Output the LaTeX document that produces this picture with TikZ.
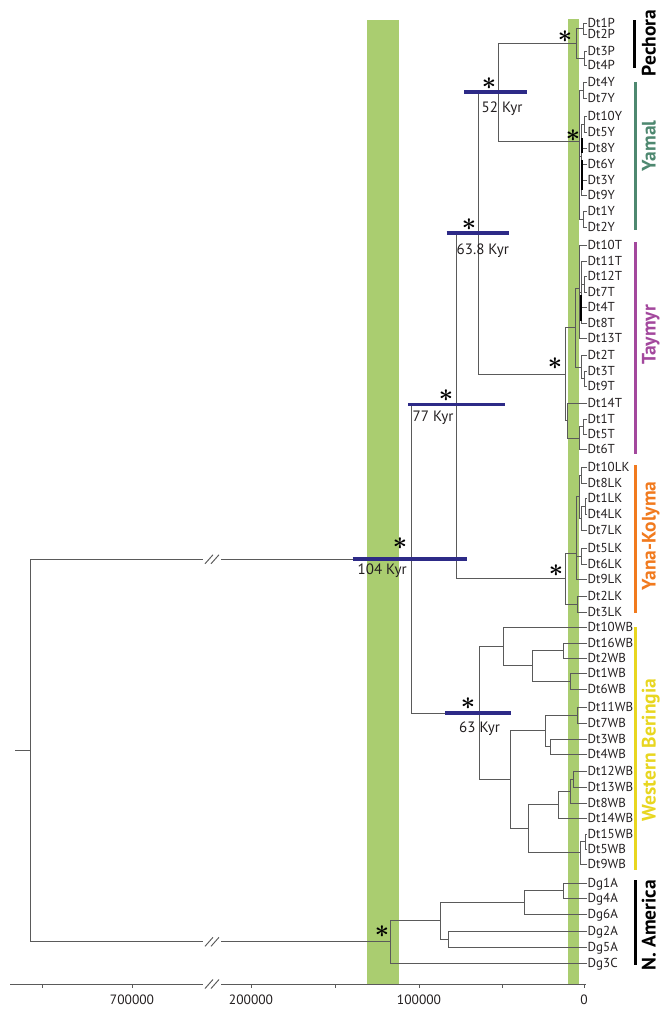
\documentclass[tikz,border=0pt]{standalone}
\usepackage{fontspec}
\setmainfont{PT Sans}
\definecolor{barg}{RGB}{170,205,112}
\definecolor{navy}{RGB}{45,42,135}
\definecolor{treeg}{RGB}{90,90,90}
\definecolor{yamalc}{RGB}{78,136,112}
\definecolor{taymc}{RGB}{163,72,157}
\definecolor{ykc}{RGB}{241,122,30}
\definecolor{wbc}{RGB}{232,214,32}
\definecolor{txt}{RGB}{35,31,32}
\tikzset{
  br/.style={draw=treeg, line width=0.95pt},
  leaf/.style={anchor=west, inner xsep=1pt, inner ysep=0pt, text height=9pt, text depth=0pt, font=\fontsize{13}{15}\selectfont, text=txt},
  kyrbar/.style={draw=navy, line width=3.8pt},
  kyr/.style={anchor=west, inner sep=0pt, text height=10.3pt, text depth=0pt, font=\fontsize{15}{17}\selectfont, text=txt},
  star/.style={inner sep=0pt, font=\Huge\boldmath, text=black},
  clade/.style={rotate=90, anchor=base, inner sep=0pt, font=\fontsize{19.5}{21}\selectfont\bfseries},
  cbar/.style={line width=2.2pt},
  thickseg/.style={draw=black, line width=2pt},
}
\begin{document}
\begin{tikzpicture}[x=1pt,y=-1pt]
\useasboundingbox (0,0) rectangle (661,1009);
% green bands
\fill[barg] (367,20) rectangle (399,985);
\fill[barg] (567.7,19) rectangle (579.3,985);
% leaves
\foreach \n/\y in {Dt1P/23, Dt2P/34, Dt3P/51, Dt4P/65, Dt4Y/82, Dt7Y/98, Dt10Y/116, Dt5Y/132, Dt8Y/148, Dt6Y/164, Dt3Y/180, Dt9Y/195, Dt1Y/211, Dt2Y/227, Dt10T/245, Dt11T/261, Dt12T/276, Dt7T/292, Dt4T/307, Dt8T/323, Dt13T/338, Dt2T/355, Dt3T/371, Dt9T/386, Dt14T/403, Dt1T/419, Dt5T/434, Dt6T/449, Dt10LK/467, Dt8LK/483, Dt1LK/498, Dt4LK/514, Dt7LK/530, Dt5LK/548, Dt6LK/564, Dt9LK/579, Dt2LK/596, Dt3LK/612, Dt10WB/627, Dt16WB/643, Dt2WB/658, Dt1WB/673, Dt6WB/689, Dt11WB/707, Dt7WB/723, Dt3WB/739, Dt4WB/754, Dt12WB/771, Dt13WB/787, Dt8WB/803, Dt14WB/818, Dt15WB/834, Dt5WB/849, Dt9WB/864, Dg1A/883, Dg4A/898, Dg6A/914, Dg2A/931, Dg5A/947, Dg3C/963}
  \node[leaf] (\n) at (586.5,\y) {\n};
% internal nodes
\foreach \n/\x/\y in {p12/583/28.5, p34/584/58, pR/576/43.25,
  y47/583/90, y105/584/124, yM/581.5/156, y12/583/219, yR/579.5/141, n52/498/92,
  tA1a/584/284, tA1b/581.5/292, tA1/579/288, tA2a/584/378.5, tA2/581/367, tA/575/327.5,
  tB1a/583/426.5, tB1/579/438, tB/567.7/420.5, tR/565.7/374, n638/478.7/233,
  k108/581/475, k14/585/506, k147/581.7/518, k1/579/496.5, k56/581.7/556, kU/576.7/553, kL/577/604, kR/565/578.5, n77/456/405.5,
  w162/563/650.5, w16/570/681, wX2/532/665.75, wX1/503/646.4, w117/577/715, w34/550/746.5, wY1/545/730.75,
  w1213/573/779, w8/570/791, w14/558/804.5, w155/585/841.5, w9/580/852.75, wY2/528/828.6, wY/510/779.7, wR/479.5/713,
  n104/411.7/559.25,
  a14/563/890.5, a146/524/902.25, a25/448/939, aA/440/920.6, aR/390.7/941.8,
  root/30/750.5, stub/15/750.5, bk1/203/559.25, bk2/221/559.25, bk3/203/941.8, bk4/221/941.8}
  \coordinate (\n) at (\x,\y);
% branches
\foreach \p/\c in {p12/Dt1P, p12/Dt2P, p34/Dt3P, p34/Dt4P, pR/p12, pR/p34,
  y47/Dt4Y, y47/Dt7Y, y105/Dt10Y, y105/Dt5Y, yM/y105, yM/Dt8Y, yM/Dt6Y, yM/Dt3Y, yM/Dt9Y, y12/Dt1Y, y12/Dt2Y, yR/y47, yR/yM, yR/y12,
  n52/pR, n52/yR,
  tA1a/Dt12T, tA1a/Dt7T, tA1b/Dt11T, tA1b/tA1a, tA1b/Dt4T, tA1b/Dt8T, tA1/Dt10T, tA1/tA1b, tA1/Dt13T, tA2a/Dt3T, tA2a/Dt9T, tA2/Dt2T, tA2/tA2a, tA/tA1, tA/tA2,
  tB1a/Dt1T, tB1a/Dt5T, tB1/tB1a, tB1/Dt6T, tB/Dt14T, tB/tB1, tR/tA, tR/tB,
  n638/n52, n638/tR,
  k108/Dt10LK, k108/Dt8LK, k14/Dt1LK, k14/Dt4LK, k147/k14, k147/Dt7LK, k1/k108, k1/k147, k56/Dt5LK, k56/Dt6LK, kU/k1, kU/k56, kU/Dt9LK, kL/Dt2LK, kL/Dt3LK, kR/kU, kR/kL,
  n77/n638, n77/kR,
  w162/Dt16WB, w162/Dt2WB, w16/Dt1WB, w16/Dt6WB, wX2/w162, wX2/w16, wX1/Dt10WB, wX1/wX2,
  w117/Dt11WB, w117/Dt7WB, w34/Dt3WB, w34/Dt4WB, wY1/w117, wY1/w34,
  w1213/Dt12WB, w1213/Dt13WB, w8/w1213, w8/Dt8WB, w14/w8, w14/Dt14WB, w155/Dt15WB, w155/Dt5WB, w9/w155, w9/Dt9WB,
  wY2/w14, wY2/w9, wY/wY1, wY/wY2, wR/wX1, wR/wY,
  n104/n77, n104/wR,
  a14/Dg1A, a14/Dg4A, a146/a14, a146/Dg6A, a25/Dg2A, a25/Dg5A, aA/a146, aA/a25, aR/aA, aR/Dg3C}
  \draw[br] (\p) |- (\c);
% root with breaks
\draw[br] (stub) -- (root);
\draw[br] (root) |- (bk1);
\draw[br] (bk2) -- (n104);
\draw[br] (root) |- (bk3);
\draw[br] (bk4) -- (aR);
\foreach \y in {559.25, 941.8} {
  \draw[br] (205,\y+4.5) -- (213,\y-4.5);
  \draw[br] (211,\y+4.5) -- (219,\y-4.5);
}
% very short branches drawn heavy
\draw[thickseg] (581.5,138) -- (581.5,153);
\draw[thickseg] (581.5,160) -- (581.5,190);
\draw[thickseg] (580.5,295) -- (580.5,321);
% age bars
\draw[kyrbar] (464,92) -- (527,92);
\draw[kyrbar] (446.7,233) -- (509.3,233);
\draw[kyrbar] (408,404.5) -- (505,404.5);
\draw[kyrbar] (352.7,559.25) -- (467,559.25);
\draw[kyrbar] (445,713) -- (511,713);
\node[kyr] (k52) at (481.5,107) {52 Kyr};
\node[kyr] (k638) at (456.5,249) {63.8 Kyr};
\node[kyr] (k77) at (412.5,416) {77 Kyr};
\node[kyr] (k104) at (357.5,569.5) {104 Kyr};
\node[kyr] (k63) at (459,727) {63 Kyr};
% support stars
\foreach \n/\x/\y in {s1/565/37, s2/489/84, s3/573/136, s4/469/225, s5/555/364, s6/446/396, s7/400/544, s8/556/571, s9/468/704, s10/382/932}
  \node[star] (\n) at (\x,\y) {$\ast$};
% axis
\draw[br] (10,984) -- (203,984);
\draw[br] (221,984) -- (586,984);
\draw[br] (205,988.5) -- (213,979.5);
\draw[br] (211,988.5) -- (219,979.5);
\foreach \x in {42,132,251,335,419,502,584}
  \draw[br] (\x,984) -- (\x,987.5);
\foreach \x/\t in {132/700000, 251/200000, 419/100000, 584/0}
  \node[anchor=center, inner sep=0pt, text height=9.5pt, text depth=0pt, font=\fontsize{13.5}{15}\selectfont, text=txt] at (\x,1000) {\t};
% clade bars and names
\draw[cbar, black] (634.5,20) -- (634.5,68);
\draw[cbar, yamalc] (635.5,82) -- (635.5,230);
\draw[cbar, taymc] (635.5,242) -- (635.5,454);
\draw[cbar, ykc] (635.5,465) -- (635.5,613);
\draw[cbar, wbc] (635.5,627) -- (635.5,870);
\draw[cbar, black] (635.5,880) -- (635.5,965);
\node[clade, text=black] (cP) at (655.5,43) {Pechora};
\node[clade, text=yamalc] (cY) at (655.5,146) {Yamal};
\node[clade, text=taymc] (cT) at (655.5,335) {Taymyr};
\node[clade, text=ykc] (cK) at (655.5,536) {Yana-Kolyma};
\node[clade, text=wbc] (cW) at (655.5,750) {Western Beringia};
\node[clade, text=black] (cN) at (655.5,925) {N. America};
\end{tikzpicture}
\end{document}
